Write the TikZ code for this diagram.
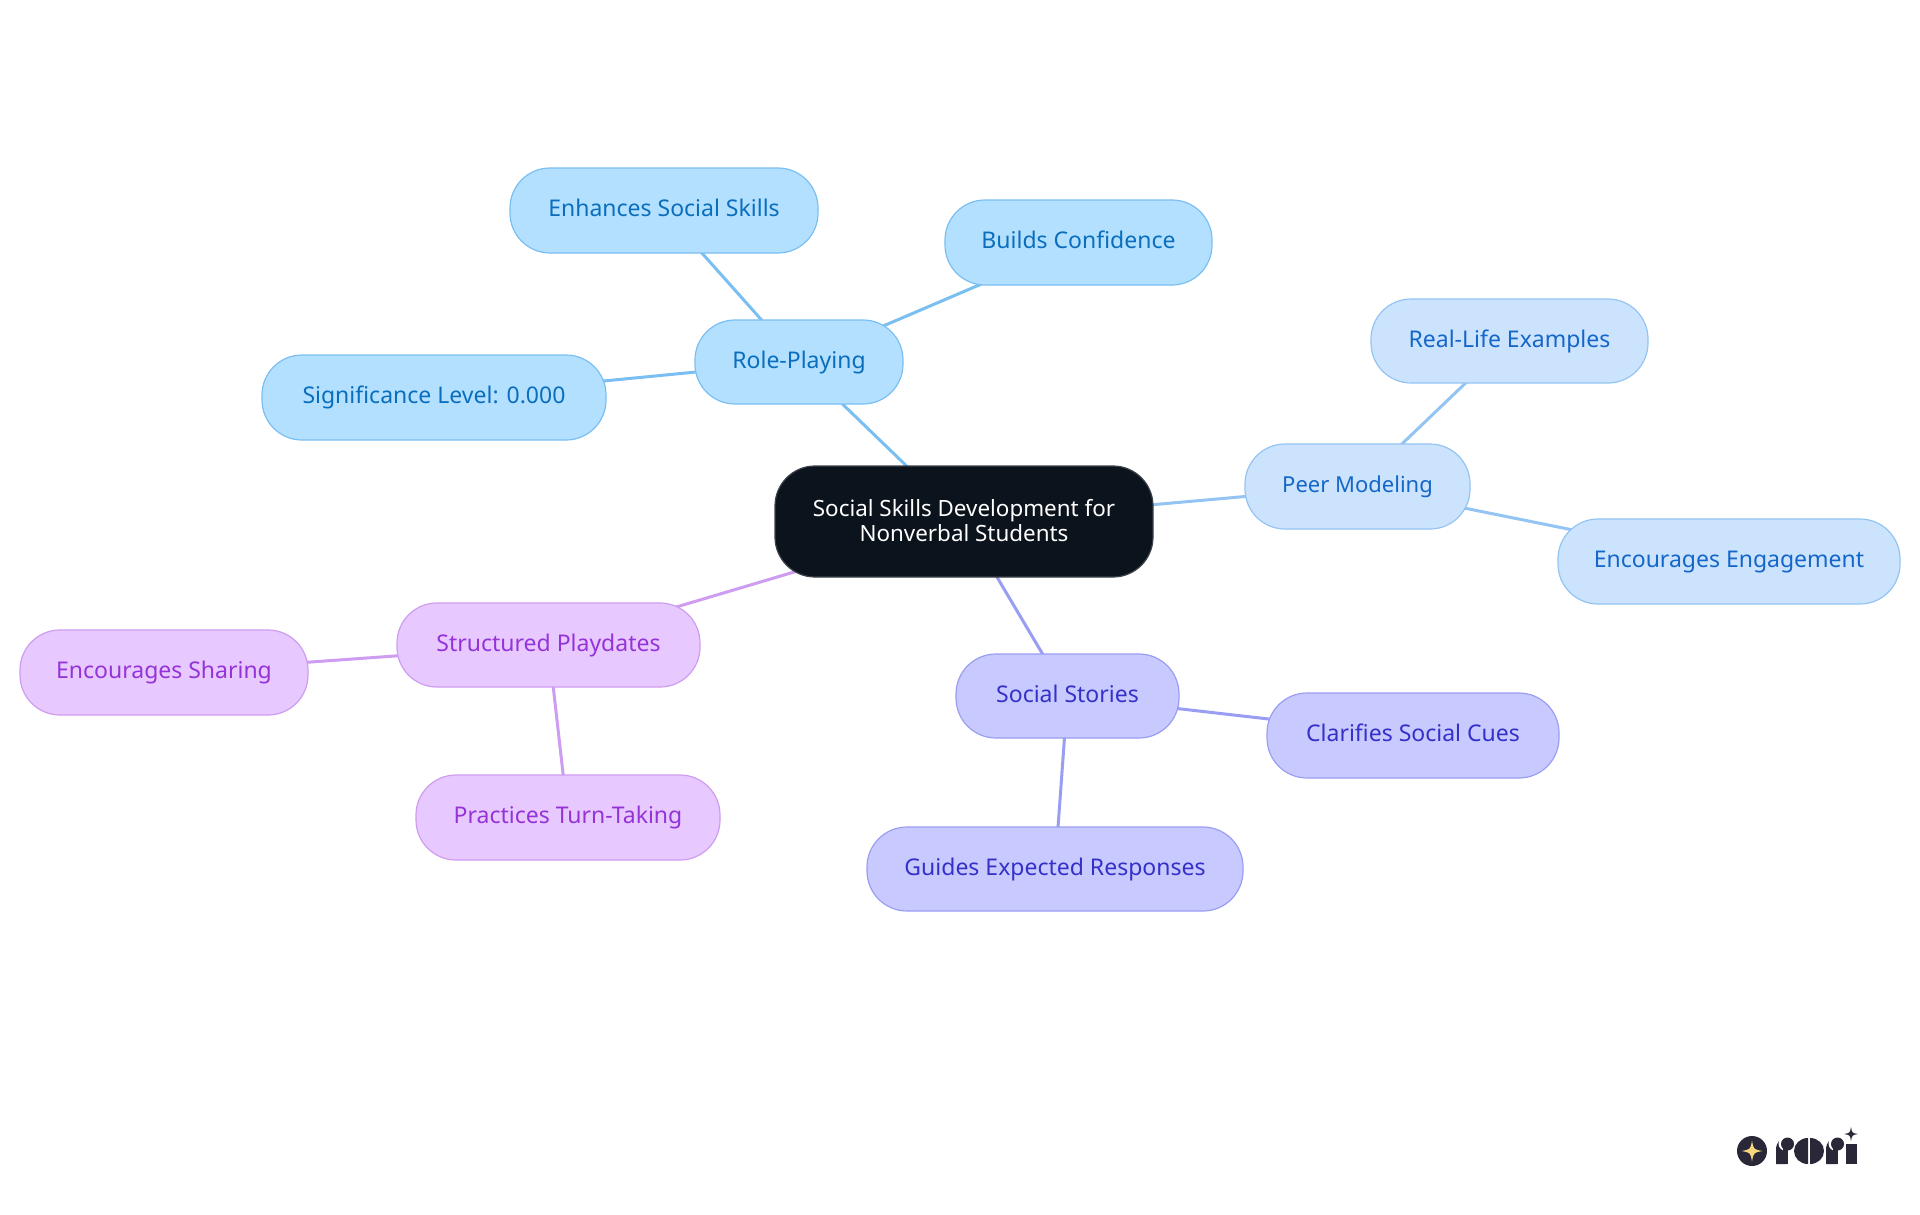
\documentclass[tikz,border=0pt]{standalone}
\usepackage{fontspec}
\setmainfont{Noto Sans}
\usetikzlibrary{backgrounds}
\definecolor{rolefill}{HTML}{B3E0FF}\definecolor{roleline}{HTML}{7ABFF2}\definecolor{roletext}{HTML}{0A6EBD}
\definecolor{peerfill}{HTML}{CCE3FD}\definecolor{peerline}{HTML}{94C4F3}\definecolor{peertext}{HTML}{1466C8}
\definecolor{storyfill}{HTML}{C8CAFF}\definecolor{storyline}{HTML}{9A9EF2}\definecolor{storytext}{HTML}{3530C8}
\definecolor{playfill}{HTML}{E8C9FF}\definecolor{playline}{HTML}{CE9CF0}\definecolor{playtext}{HTML}{9333D8}
\definecolor{rootfill}{HTML}{0B131C}\definecolor{logoink}{HTML}{2A2838}\definecolor{logostar}{HTML}{F8D67E}
\tikzset{
  x=1pt,y=-1pt,
  mapnode/.style={draw,line width=1.2pt,rounded corners=40pt,inner sep=0pt},
  leaf/.style={mapnode,text height=17pt,text depth=5pt,font=\fontsize{23}{25}\selectfont},
  role/.style={leaf,fill=rolefill,draw=roleline,text=roletext},
  peer/.style={leaf,fill=peerfill,draw=peerline,text=peertext},
  story/.style={leaf,fill=storyfill,draw=storyline,text=storytext},
  play/.style={leaf,fill=playfill,draw=playline,text=playtext},
  root/.style={mapnode,align=center,font=\fontsize{22.4}{25}\selectfont,fill=rootfill,draw=rootfill!80!white,text=white},
  link/.style={line width=3pt},
}
\newcommand{\boxnode}[7]{\node[#2,minimum width=#5pt-#4pt,minimum height=#7pt-#6pt] (#1) at ({(#4+#5)/2},{(#6+#7)/2}) {#3};}
\newcommand{\fourstar}[4]{\fill[#4] (#1-#3,#2) .. controls (#1-0.15*#3,#2-0.15*#3) .. (#1,#2-#3) .. controls (#1+0.15*#3,#2-0.15*#3) .. (#1+#3,#2) .. controls (#1+0.15*#3,#2+0.15*#3) .. (#1,#2+#3) .. controls (#1-0.15*#3,#2+0.15*#3) .. (#1-#3,#2) -- cycle;}
\newcommand{\logor}[1]{%
  \fill[logoink] (#1,1164) -- (#1,1150) .. controls (#1,1142) and (#1+5,1137) .. (#1+11,1137) -- (#1+11,1164) -- cycle;
  \fill[white] (#1+10,1143.5) circle (7.5);
  \fill[logoink] (#1+7,1147) rectangle (#1+12,1164);
  \fill[logoink] (#1,1152) rectangle (#1+12,1164);
  \fill[logoink] (#1+11.5,1144) circle (6.5);}
\begin{document}
\begin{tikzpicture}
\useasboundingbox (0,0) rectangle (1920,1215);
\boxnode{c}{root}{Social Skills Development for\\Nonverbal Students\rule[-2.5pt]{0pt}{1pt}}{775}{1153}{466}{577}
\boxnode{r}{role}{Role-Playing}{695}{903}{320}{404}
\boxnode{r1}{role}{Enhances Social Skills}{510}{818}{168}{253}
\boxnode{r2}{role}{Builds Confidence}{945}{1212}{200}{285}
\boxnode{r3}{role}{Significance Level: 0.000}{262}{606}{355}{440}
\boxnode{p}{peer}{{\fontsize{22}{24}\selectfont Peer Modeling}}{1245}{1470}{444}{529}
\boxnode{p1}{peer}{Real-Life Examples}{1371}{1648}{299}{383}
\boxnode{p2}{peer}{Encourages Engagement}{1558}{1900}{519}{604}
\boxnode{s}{story}{Social Stories}{956}{1179}{654}{738}
\boxnode{s1}{story}{Clarifies Social Cues}{1267}{1559}{693}{778}
\boxnode{s2}{story}{Guides Expected Responses}{867}{1243}{827}{911}
\boxnode{t}{play}{Structured Playdates}{397}{700}{603}{687}
\boxnode{t1}{play}{Encourages Sharing}{20}{308}{630}{715}
\boxnode{t2}{play}{Practices Turn-Taking}{416}{720}{775}{860}
\begin{pgfonlayer}{background}
\fill[white] (0,0) rectangle (1920,1215);
\draw[link,roleline] (c.center) -- (r.center);
\draw[link,roleline] (r.center) -- (r1.center);
\draw[link,roleline] (r.center) -- (r2.center);
\draw[link,roleline] (r.center) -- (r3.center);
\draw[link,peerline] (c.center) -- (p.center);
\draw[link,peerline] (p.center) -- (p1.center);
\draw[link,peerline] (p.center) -- (p2.center);
\draw[link,storyline] (c.center) -- (s.center);
\draw[link,storyline] (s.center) -- (s1.center);
\draw[link,storyline] (s.center) -- (s2.center);
\draw[link,playline] (c.center) -- (t.center);
\draw[link,playline] (t.center) -- (t1.center);
\draw[link,playline] (t.center) -- (t2.center);
\end{pgfonlayer}
% logo
\fill[logoink] (1752,1151) circle (15);
\fourstar{1752}{1151}{10.5}{logostar}
\logor{1776}
\fill[logoink] (1808,1164) .. controls (1800,1164) and (1794,1158) .. (1794,1151) .. controls (1794,1144) and (1800,1138) .. (1808,1138) -- cycle;
\fill[logoink] (1810,1164) .. controls (1818,1164) and (1824,1158) .. (1824,1151) .. controls (1824,1144) and (1818,1138) .. (1810,1138) -- cycle;
\logor{1826}
\fill[logoink] (1846,1144) -- (1857,1144) -- (1857,1164) -- (1846,1164) -- cycle;
\fourstar{1851}{1134}{7}{logoink}
\end{tikzpicture}
\end{document}
